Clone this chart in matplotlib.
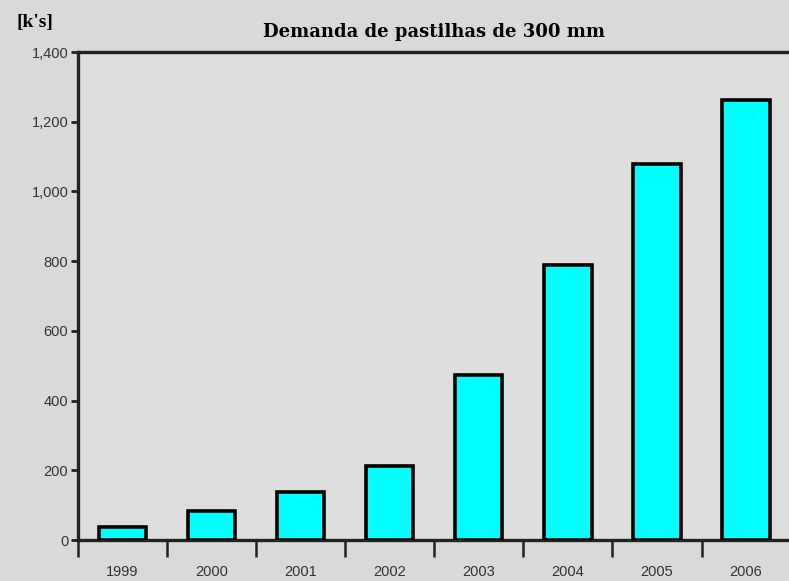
import matplotlib
matplotlib.use("Agg")
import matplotlib.pyplot as plt
import numpy as np

# Dados (milhares de pastilhas)
anos = ["1999", "2000", "2001", "2002", "2003", "2004", "2005", "2006"]
demanda = [38, 84, 138, 212, 472, 788, 1078, 1262]
yticks = [0, 200, 400, 600, 800, 1000, 1200, 1400]
ytick_labels = ["0", "200", "400", "600", "800", "1,000", "1,200", "1,400"]

fig = plt.figure(figsize=(7.89, 5.81), dpi=100)
fig.patch.set_facecolor("#d9d9d9")
ax = fig.add_axes([78 / 789, 1 - 540 / 581, 1 - 78 / 789 + 0.002, (540 - 52) / 581])
ax.set_facecolor("#dedede")

x = np.arange(len(anos))
ax.bar(x, demanda, width=0.53, color="#00ffff", edgecolor="black", linewidth=2.6, zorder=3)

ax.set_xlim(-0.5, len(anos) - 0.5)
ax.set_ylim(0, 1400)

# rótulos dos anos no centro, marcas entre as barras
ax.set_xticks(x)
ax.set_xticklabels(anos, fontsize=10.5, color="#333333", family="Liberation Sans")
ax.tick_params(axis="x", which="major", length=0, pad=18)
ax.set_xticks(np.arange(len(anos)) - 0.5, minor=True)
ax.tick_params(axis="x", which="minor", length=12, width=1.8, direction="out", color="#222222")

ax.set_yticks(yticks)
ax.set_yticklabels(ytick_labels, fontsize=10.5, color="#333333", family="Liberation Sans")
ax.tick_params(axis="y", length=5, width=2, direction="out", color="#222222", pad=2)

for side in ["left", "bottom", "top"]:
    ax.spines[side].set_linewidth(2.4)
    ax.spines[side].set_color("#222222")
ax.spines["right"].set_visible(False)

fig.text(434 / 789, 1 - 32 / 581, "Demanda de pastilhas de 300 mm", ha="center", va="center",
         fontsize=13, fontweight="bold", family="DejaVu Serif")
fig.text(16 / 789, 1 - 23 / 581, "[k's]", ha="left", va="center",
         fontsize=14, fontweight="bold", family="Liberation Serif")

fig.savefig("out.png", dpi=100, facecolor=fig.get_facecolor())
